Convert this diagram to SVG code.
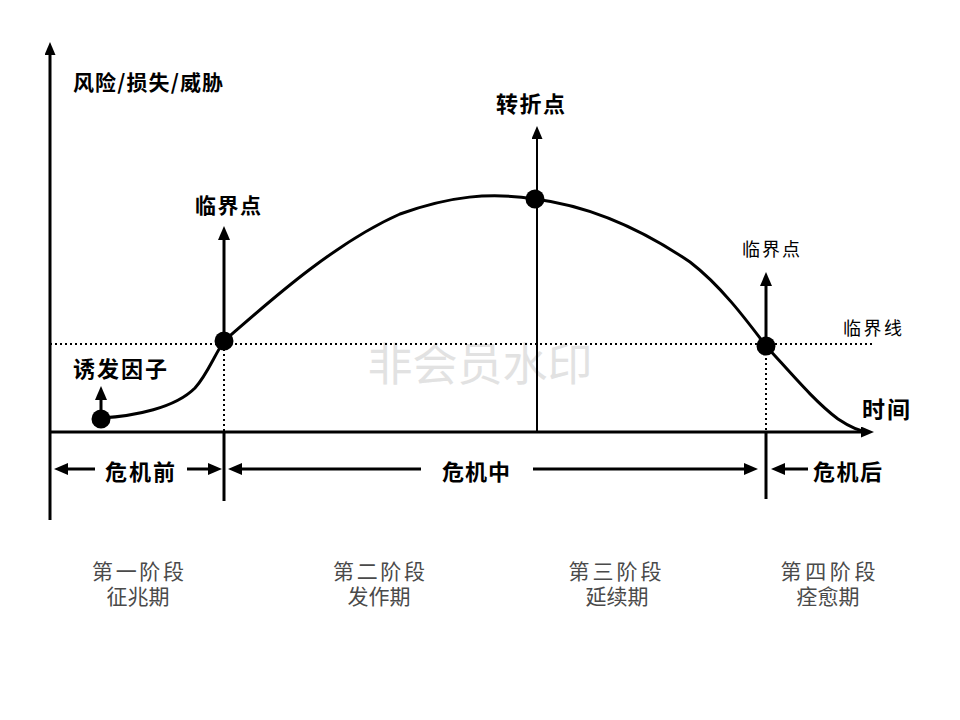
<svg xmlns="http://www.w3.org/2000/svg" width="960" height="720" viewBox="0 0 960 720">
<style>
  .lbl{font-family:"Noto Sans CJK SC","Liberation Sans",sans-serif;font-weight:bold;fill:#000;dominant-baseline:central}
  .lbl2{font-family:"Noto Sans CJK SC","Liberation Sans",sans-serif;font-weight:normal;fill:#000;dominant-baseline:central}
  .stage{font-family:"Liberation Serif","Noto Sans CJK SC",serif;font-size:21px;fill:#4a4a4a;text-anchor:middle;dominant-baseline:central}
  .wm{font-family:"Noto Sans CJK SC",sans-serif;font-size:45px;fill:#e2e2e2;text-anchor:middle;dominant-baseline:central}
  .ax{stroke:#000;stroke-width:3;fill:none}
  .arr{stroke:#000;stroke-width:3;fill:none;marker-end:url(#ah)}
  .dot{stroke:#000;stroke-width:2;stroke-dasharray:2 3;fill:none}
  .pt{fill:#000}
</style>
<defs>
  <marker id="ah" markerUnits="userSpaceOnUse" markerWidth="14" markerHeight="12" refX="6" refY="6" orient="auto">
    <path d="M0,0 L14,6 L0,12 z" fill="#000"/>
  </marker>
  <marker id="ahs" markerUnits="userSpaceOnUse" markerWidth="13" markerHeight="11" refX="5" refY="5.5" orient="auto">
    <path d="M0,0 L13,5.5 L0,11 z" fill="#000"/>
  </marker>
</defs>
<rect width="960" height="720" fill="#fff"/>
<text class="wm" x="480" y="361">非会员水印</text>

<g id="connectors">
  <line id="y-axis" x1="50" y1="520" x2="50" y2="50" class="ax" marker-end="url(#ahs)"/>
  <line id="x-axis" x1="50" y1="432" x2="866" y2="432" class="ax" marker-end="url(#ahs)"/>
  <line x1="50" y1="344" x2="872" y2="344" class="dot"/>
  <path d="M101,418 C135,416 175,408 195,388 C207,375 214,356 224,341 C260,310 330,245 400,214 C450,196 490,192 535,199 C590,206 640,228 690,262 C720,285 745,318 766,346 C790,372 815,402 838,419 C850,427 858,431 868,432" stroke="#000" stroke-width="3" fill="none"/>
  <line x1="224" y1="344" x2="224" y2="432" class="dot"/>
  <line x1="766" y1="348" x2="766" y2="432" class="dot"/>
  <line x1="224" y1="432" x2="224" y2="501" class="ax"/>
  <line x1="766" y1="432" x2="766" y2="499" class="ax"/>
  <line x1="537" y1="432" x2="537" y2="134" stroke="#000" stroke-width="2" marker-end="url(#ahs)"/>
  <line x1="101" y1="418" x2="101" y2="394" class="arr"/>
  <line x1="224" y1="341" x2="224" y2="234" class="arr"/>
  <line x1="766" y1="346" x2="766" y2="280" class="arr"/>
  <line x1="95" y1="469" x2="62" y2="469" class="arr"/>
  <line x1="187" y1="469" x2="214" y2="469" class="arr"/>
  <line x1="421" y1="469" x2="236" y2="469" class="arr"/>
  <line x1="533" y1="469" x2="750" y2="469" class="arr"/>
  <line x1="808" y1="469" x2="779" y2="469" class="arr"/>
</g>

<g id="axis-label"><text class="lbl" x="73" y="81" font-size="21" textLength="150" lengthAdjust="spacing">风险/损失/威胁</text></g>
<g id="time-label"><text class="lbl" x="862" y="408" font-size="23" textLength="48" lengthAdjust="spacing">时间</text></g>
<g id="trigger"><circle class="pt" cx="101" cy="419" r="9.5"/><text class="lbl" x="73" y="367" font-size="22" textLength="94" lengthAdjust="spacing">诱发因子</text></g>
<g id="critical1"><circle class="pt" cx="224" cy="341" r="9.5"/><text class="lbl" x="195" y="204" font-size="21" textLength="66" lengthAdjust="spacing">临界点</text></g>
<g id="turning"><circle class="pt" cx="535" cy="199" r="9.5"/><text class="lbl" x="496" y="102" font-size="22" textLength="69" lengthAdjust="spacing">转折点</text></g>
<g id="critical2"><circle class="pt" cx="766" cy="346" r="9.5"/><text class="lbl2" x="742" y="248" font-size="18" textLength="58" lengthAdjust="spacing">临界点</text></g>
<g id="critical-line"><text class="lbl2" x="843" y="327" font-size="18" textLength="59" lengthAdjust="spacing">临界线</text></g>

<g id="phase-before"><text class="lbl" x="105" y="470" font-size="22" textLength="70" lengthAdjust="spacing">危机前</text></g>
<g id="phase-during"><text class="lbl" x="442" y="470" font-size="22" textLength="68" lengthAdjust="spacing">危机中</text></g>
<g id="phase-after"><text class="lbl" x="813" y="470" font-size="22" textLength="69" lengthAdjust="spacing">危机后</text></g>

<g id="stage1"><text class="stage" x="138" y="572" textLength="92" lengthAdjust="spacing">第一阶段</text><text class="stage" x="138" y="597">征兆期</text></g>
<g id="stage2"><text class="stage" x="379" y="572" textLength="92" lengthAdjust="spacing">第二阶段</text><text class="stage" x="379" y="597">发作期</text></g>
<g id="stage3"><text class="stage" x="615" y="572" textLength="93" lengthAdjust="spacing">第三阶段</text><text class="stage" x="617" y="597">延续期</text></g>
<g id="stage4"><text class="stage" x="828" y="572" textLength="95" lengthAdjust="spacing">第四阶段</text><text class="stage" x="828" y="597">痊愈期</text></g>
</svg>
